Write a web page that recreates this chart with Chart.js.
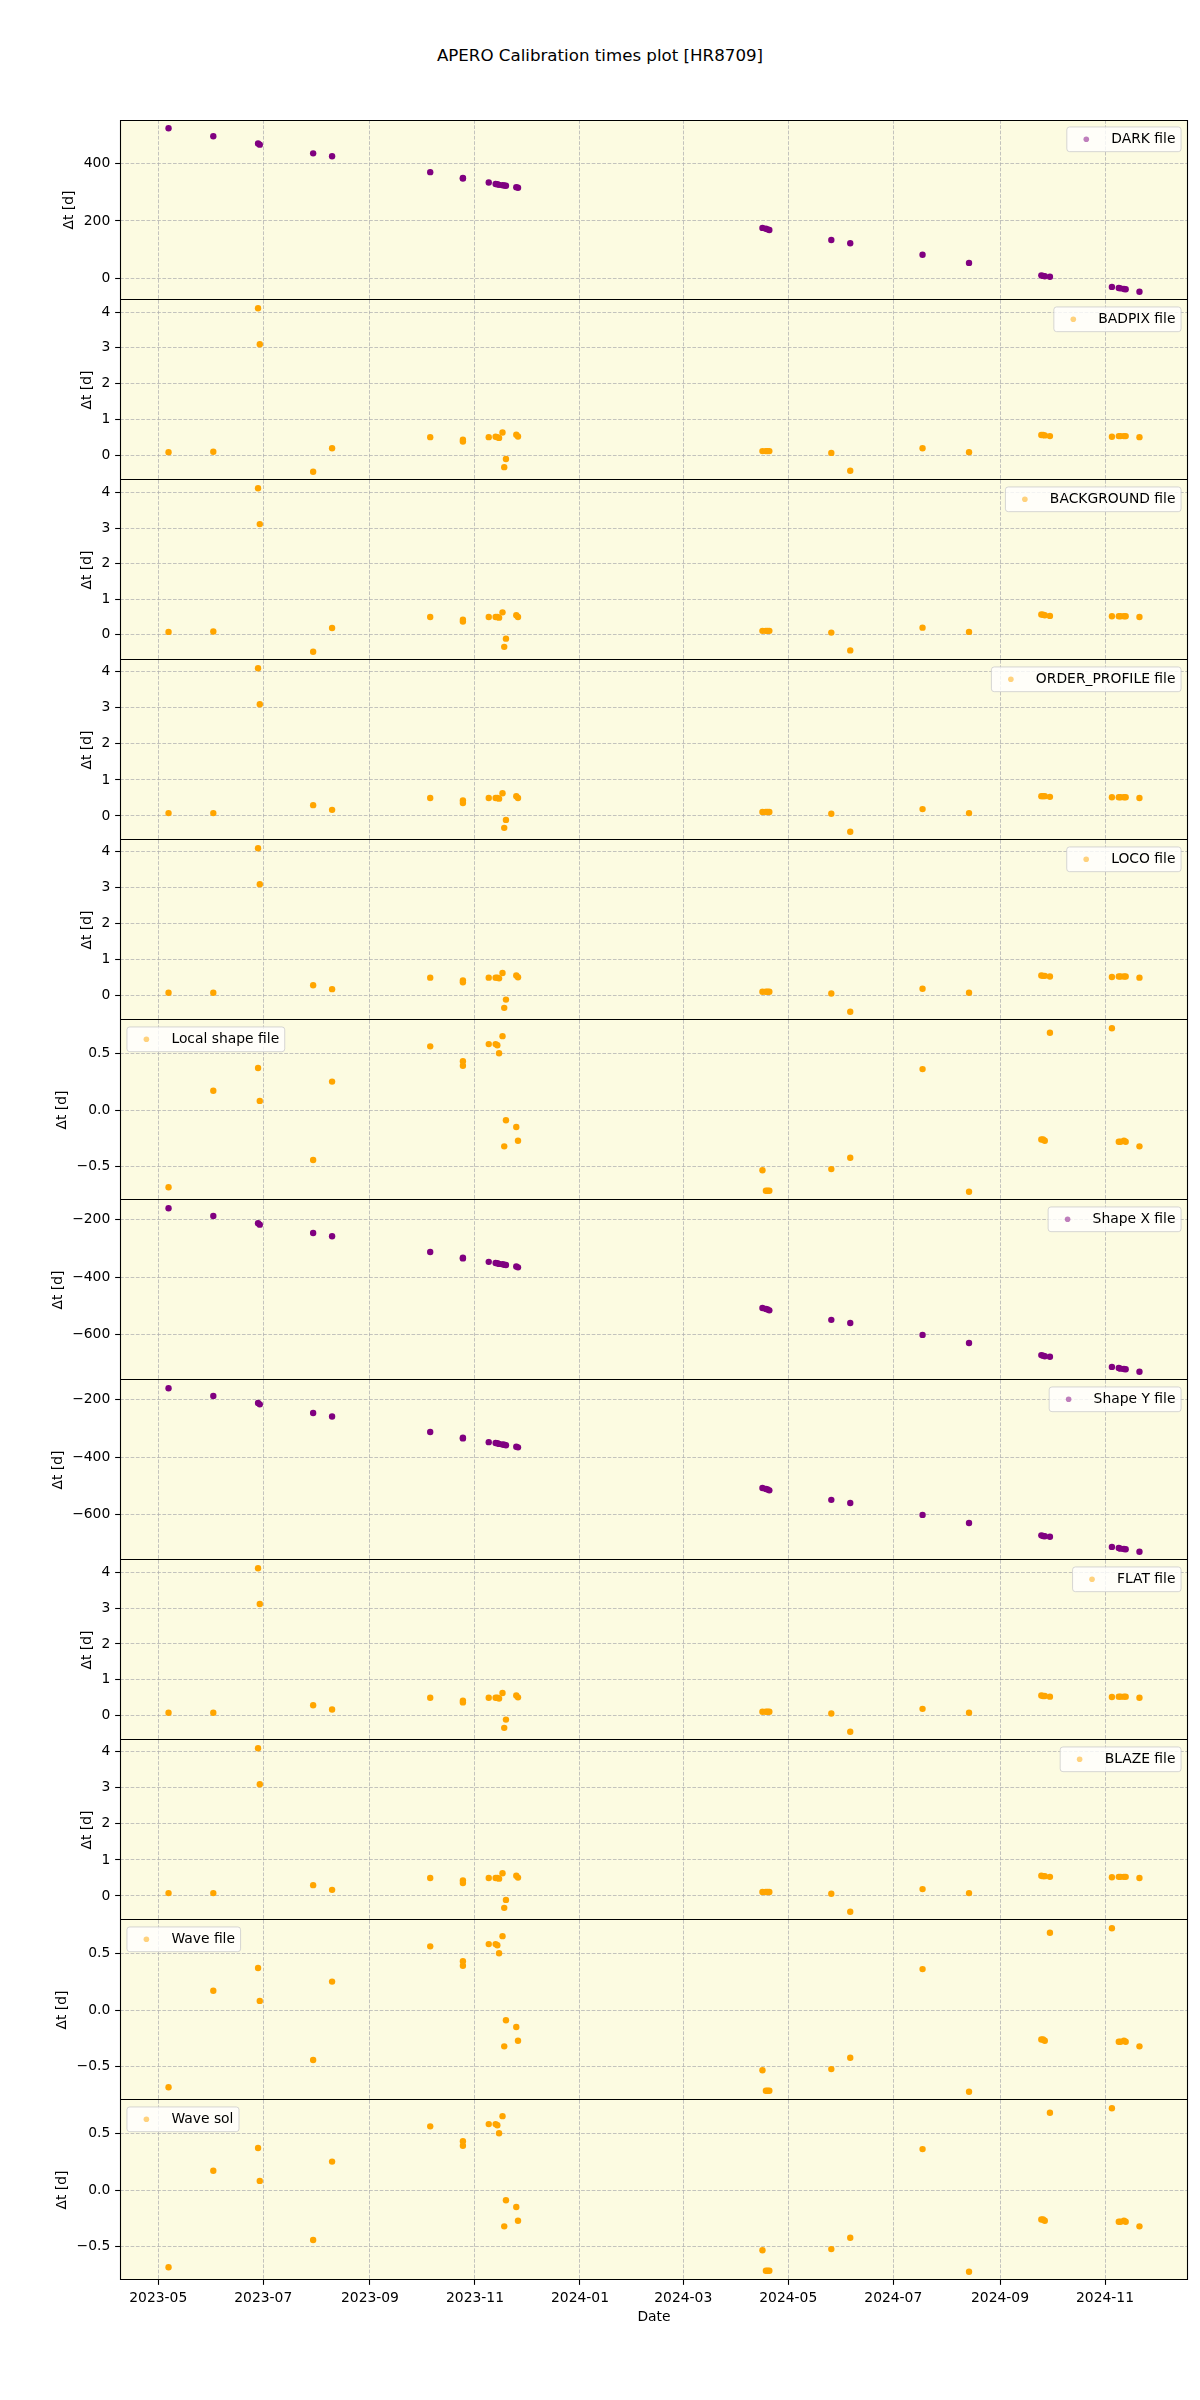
<!DOCTYPE html>
<html>
<head>
<meta charset="utf-8">
<script src="https://cdn.jsdelivr.net/npm/chart.js@4.4.1/dist/chart.umd.min.js"></script>
<style>
html,body{margin:0;padding:0;background:#ffffff;}
#wrap{position:relative;width:1200px;height:2400px;overflow:hidden;}
#title{position:absolute;left:0;top:44px;width:1200px;text-align:center;font-family:"DejaVu Sans";font-size:16.67px;line-height:24px;color:#000;}
canvas{position:absolute;left:0;}
</style>
</head>
<body>
<div id="wrap"><div id="title">APERO Calibration times plot [HR8709]</div></div>
<script>
// ---------------- data ----------------
const obsDates = ['2023-05-07','2023-06-02','2023-06-28','2023-06-29','2023-07-30','2023-08-10','2023-10-06','2023-10-25','2023-10-25','2023-11-09','2023-11-13','2023-11-14','2023-11-15','2023-11-17','2023-11-18','2023-11-19','2023-11-25','2023-11-26','2024-04-16','2024-04-18','2024-04-19','2024-04-20','2024-05-26','2024-06-06','2024-07-18','2024-08-14','2024-09-25','2024-09-26','2024-09-27','2024-09-30','2024-11-05','2024-11-09','2024-11-10','2024-11-12','2024-11-13','2024-11-21'];

const darkDt = [521,493,468,464,434,424,369,349,347,333,328,327,325,324,323,322,317,315,176,173,171,169,134,123,83,55,12,10,9,7,-28,-32,-33,-35,-36,-45];
const badpixDt = [0.08,0.09,4.11,3.10,-0.47,0.19,0.50,0.43,0.38,0.50,0.51,0.50,0.48,0.63,-0.34,-0.11,0.57,0.52,0.11,0.11,0.11,0.11,0.06,-0.44,0.19,0.08,0.56,0.56,0.55,0.53,0.51,0.53,0.53,0.53,0.53,0.50];
const backgroundDt = [0.08,0.09,4.12,3.11,-0.48,0.19,0.50,0.42,0.37,0.50,0.50,0.50,0.48,0.63,-0.34,-0.11,0.55,0.50,0.11,0.11,0.11,0.11,0.06,-0.44,0.20,0.08,0.57,0.56,0.55,0.53,0.52,0.52,0.52,0.52,0.52,0.50];
const orderProfileDt = [0.08,0.08,4.10,3.10,0.30,0.17,0.50,0.43,0.36,0.50,0.50,0.50,0.48,0.63,-0.33,-0.11,0.55,0.50,0.11,0.11,0.11,0.11,0.06,-0.44,0.19,0.08,0.55,0.55,0.55,0.53,0.52,0.52,0.52,0.52,0.52,0.50];
const locoDt = [0.08,0.08,4.10,3.10,0.29,0.18,0.50,0.42,0.37,0.50,0.50,0.50,0.48,0.63,-0.34,-0.11,0.56,0.51,0.11,0.11,0.11,0.11,0.06,-0.45,0.19,0.08,0.56,0.55,0.55,0.53,0.52,0.53,0.53,0.53,0.53,0.50];
const localShapeDt = [-0.68,0.17,0.37,0.08,-0.44,0.25,0.56,0.43,0.39,0.58,0.58,0.57,0.50,0.65,-0.32,-0.09,-0.15,-0.27,-0.53,-0.71,-0.71,-0.71,-0.52,-0.42,0.36,-0.72,-0.26,-0.26,-0.27,0.68,0.72,-0.28,-0.28,-0.27,-0.28,-0.32];
const shapeXDt = [-161,-188,-213,-218,-247,-258,-313,-333,-335,-347,-351,-352,-354,-355,-357,-358,-363,-366,-507,-510,-512,-515,-548,-559,-600,-628,-670,-672,-674,-676,-711,-715,-717,-718,-719,-728];
const shapeYDt = [-161,-188,-212,-217,-247,-259,-313,-333,-335,-348,-351,-352,-354,-356,-357,-359,-364,-366,-507,-510,-512,-515,-548,-559,-600,-628,-671,-673,-674,-676,-711,-715,-717,-718,-719,-728];
const flatDt = [0.08,0.08,4.11,3.11,0.29,0.17,0.50,0.42,0.37,0.50,0.50,0.50,0.48,0.63,-0.34,-0.11,0.56,0.51,0.11,0.11,0.11,0.11,0.06,-0.45,0.19,0.08,0.56,0.55,0.55,0.53,0.52,0.53,0.53,0.53,0.53,0.50];
const blazeDt = [0.08,0.08,4.10,3.10,0.30,0.17,0.50,0.43,0.36,0.50,0.50,0.50,0.48,0.63,-0.33,-0.11,0.56,0.51,0.11,0.11,0.11,0.11,0.06,-0.44,0.19,0.08,0.56,0.55,0.55,0.53,0.52,0.53,0.53,0.53,0.53,0.50];
const waveFileDt = [-0.68,0.17,0.37,0.08,-0.44,0.25,0.56,0.43,0.39,0.58,0.58,0.57,0.50,0.65,-0.32,-0.09,-0.15,-0.27,-0.53,-0.71,-0.71,-0.71,-0.52,-0.42,0.36,-0.72,-0.26,-0.26,-0.27,0.68,0.72,-0.28,-0.28,-0.27,-0.28,-0.32];
const waveSolDt = [-0.68,0.17,0.37,0.08,-0.44,0.25,0.56,0.43,0.39,0.58,0.58,0.57,0.50,0.65,-0.32,-0.09,-0.15,-0.27,-0.53,-0.71,-0.71,-0.71,-0.52,-0.42,0.36,-0.72,-0.26,-0.26,-0.27,0.68,0.72,-0.28,-0.28,-0.27,-0.28,-0.32];

const xTickLabels = ['2023-05','2023-07','2023-09','2023-11','2024-01','2024-03','2024-05','2024-07','2024-09','2024-11'];
const darkTicks = [0,200,400];
const unitTicks = [0,1,2,3,4];
const halfTicks = [-0.5,0.0,0.5];
const shapeTicks = [-600,-400,-200];

const panelLabels = ['DARK file','BADPIX file','BACKGROUND file','ORDER_PROFILE file','LOCO file','Local shape file','Shape X file','Shape Y file','FLAT file','BLAZE file','Wave file','Wave sol'];
const yLabel = 'Δt [d]';
const xLabel = 'Date';

// ---------------- styles ----------------
const PURPLE = '#800080', ORANGE = '#FFA500';
const PURPLE_A = 'rgba(128,0,128,0.5)', ORANGE_A = 'rgba(255,165,0,0.5)';
const BG = '#FCFBE1';
const GRID = 'rgba(176,176,176,0.75)';
const FS = 13.89;
const FONT = FS + 'px "DejaVu Sans"';
const TICKLEN = 4.86, TICKPAD = 4.86;
const LEFT = 120, RIGHT = 1188, TOP0 = 120, PH = 180, W = 1200;

Chart.defaults.font.family = '"DejaVu Sans"';
Chart.defaults.font.size = FS;
Chart.defaults.color = '#000';

const panels = [
  {values: darkDt, color: PURPLE, alpha: PURPLE_A, ticks: darkTicks, loc: 'right'},
  {values: badpixDt, color: ORANGE, alpha: ORANGE_A, ticks: unitTicks, loc: 'right'},
  {values: backgroundDt, color: ORANGE, alpha: ORANGE_A, ticks: unitTicks, loc: 'right'},
  {values: orderProfileDt, color: ORANGE, alpha: ORANGE_A, ticks: unitTicks, loc: 'right'},
  {values: locoDt, color: ORANGE, alpha: ORANGE_A, ticks: unitTicks, loc: 'right'},
  {values: localShapeDt, color: ORANGE, alpha: ORANGE_A, ticks: halfTicks, loc: 'left'},
  {values: shapeXDt, color: PURPLE, alpha: PURPLE_A, ticks: shapeTicks, loc: 'right'},
  {values: shapeYDt, color: PURPLE, alpha: PURPLE_A, ticks: shapeTicks, loc: 'right'},
  {values: flatDt, color: ORANGE, alpha: ORANGE_A, ticks: unitTicks, loc: 'right'},
  {values: blazeDt, color: ORANGE, alpha: ORANGE_A, ticks: unitTicks, loc: 'right'},
  {values: waveFileDt, color: ORANGE, alpha: ORANGE_A, ticks: halfTicks, loc: 'left'},
  {values: waveSolDt, color: ORANGE, alpha: ORANGE_A, ticks: halfTicks, loc: 'left'}
].map((p, i) => Object.assign(p, {label: panelLabels[i]}));

// ---------------- helpers ----------------
const DAY = 86400000;
function toDay(s) { const a = s.split('-').map(Number); return Date.UTC(a[0], a[1] - 1, a[2] || 1) / DAY; }
function padRange(lo, hi) { const r = hi - lo; return [lo - 0.05 * r, hi + 0.05 * r]; }
const xs = obsDates.map(toDay);
const xTicks = xTickLabels.map(toDay);
const [xMin, xMax] = padRange(Math.min(...xs), Math.max(...xs));

function fmtY(v, dec) {
  const s = Math.abs(v).toFixed(dec);
  return (v < 0 ? '\u2212' : '') + s;
}
function zeroPad(s) { s.paddingTop = 0; s.paddingBottom = 0; s.paddingLeft = 0; s.paddingRight = 0; }

function roundRect(ctx, x, y, w, h, r) {
  ctx.beginPath();
  ctx.moveTo(x + r, y);
  ctx.lineTo(x + w - r, y); ctx.arcTo(x + w, y, x + w, y + r, r);
  ctx.lineTo(x + w, y + h - r); ctx.arcTo(x + w, y + h, x + w - r, y + h, r);
  ctx.lineTo(x + r, y + h); ctx.arcTo(x, y + h, x, y + h - r, r);
  ctx.lineTo(x, y + r); ctx.arcTo(x, y, x + r, y, r);
  ctx.closePath();
}

const deco = {
  id: 'deco',
  beforeDraw(chart, args, o) {
    const {ctx, chartArea: a} = chart;
    ctx.save();
    ctx.fillStyle = BG;
    ctx.fillRect(a.left, a.top, a.right - a.left, a.bottom - a.top);
    ctx.restore();
  },
  afterDraw(chart, args, o) {
    const {ctx, chartArea: a} = chart;
    ctx.save();
    // frame
    ctx.strokeStyle = '#000';
    ctx.lineWidth = 1.1;
    ctx.beginPath();
    if (o.first) { ctx.moveTo(a.left, a.top + 0.5); ctx.lineTo(a.right, a.top + 0.5); }
    ctx.moveTo(a.left, a.bottom - 0.5); ctx.lineTo(a.right, a.bottom - 0.5);
    ctx.moveTo(a.left + 0.5, a.top); ctx.lineTo(a.left + 0.5, a.bottom);
    ctx.moveTo(a.right - 0.5, a.top); ctx.lineTo(a.right - 0.5, a.bottom);
    ctx.stroke();

    // legend (matplotlib style)
    ctx.font = FONT;
    const tw = ctx.measureText(o.label).width;
    const bp = 0.4 * FS, hl = 2 * FS, htp = 0.8 * FS, bap = 0.5 * FS;
    const bw = bp + hl + htp + tw + bp;
    const bh = 2 * bp + 0.98 * FS;
    const bx = o.loc === 'left' ? a.left + bap : a.right - bap - bw;
    const by = a.top + bap;
    roundRect(ctx, bx, by, bw, bh, 0.2 * FS);
    ctx.fillStyle = 'rgba(255,255,255,0.8)';
    ctx.fill();
    ctx.strokeStyle = 'rgba(204,204,204,0.8)';
    ctx.lineWidth = 1;
    ctx.stroke();
    ctx.fillStyle = o.alpha;
    ctx.beginPath();
    ctx.arc(bx + bp + hl / 2, by + bh / 2, 2.8, 0, Math.PI * 2);
    ctx.fill();
    ctx.fillStyle = '#000';
    ctx.textAlign = 'left';
    ctx.textBaseline = 'middle';
    ctx.fillText(o.label, bx + bp + hl + htp, by + bh / 2 + 0.5);

    // y label, placed left of the widest tick label
    const maxW = Math.max(...o.tickText.map(t => ctx.measureText(t).width));
    const cx = a.left - TICKLEN - TICKPAD - maxW - 5.56 - 8.6;
    ctx.save();
    ctx.translate(cx, (a.top + a.bottom) / 2);
    ctx.rotate(-Math.PI / 2);
    ctx.textAlign = 'center';
    ctx.textBaseline = 'middle';
    ctx.fillText(yLabel, 0, 0);
    ctx.restore();

    // x label
    if (o.last) {
      ctx.textAlign = 'center';
      ctx.textBaseline = 'alphabetic';
      ctx.fillText(xLabel, (a.left + a.right) / 2, a.bottom + 40.5);
    }
    ctx.restore();
  }
};

// ---------------- build charts ----------------
const wrap = document.getElementById('wrap');
panels.forEach((p, i) => {
  const last = i === panels.length - 1;
  const ch = last ? PH + 120 : PH;
  const cv = document.createElement('canvas');
  cv.width = W; cv.height = ch;
  cv.style.width = W + 'px'; cv.style.height = ch + 'px';
  cv.style.top = (TOP0 + PH * i) + 'px';
  wrap.appendChild(cv);

  const [yMin, yMax] = padRange(Math.min(...p.values), Math.max(...p.values));
  const dec = p.ticks.some(t => !Number.isInteger(t)) ? 1 : 0;
  const tickText = p.ticks.map(t => fmtY(t, dec));

  new Chart(cv.getContext('2d'), {
    type: 'scatter',
    data: {
      datasets: [{
        label: p.label,
        data: xs.map((x, j) => ({x: x, y: p.values[j]})),
        backgroundColor: p.color,
        borderWidth: 0,
        pointRadius: 3.2,
        pointHoverRadius: 3.2
      }]
    },
    options: {
      responsive: false,
      animation: false,
      devicePixelRatio: 1,
      events: [],
      layout: {autoPadding: false, padding: {left: 0, right: W - RIGHT, top: 0, bottom: 0}},
      plugins: {
        legend: {display: false},
        tooltip: {enabled: false},
        title: {display: false},
        deco: {label: p.label, loc: p.loc, alpha: p.alpha, tickText: tickText, first: i === 0, last: last}
      },
      scales: {
        x: {
          type: 'linear',
          min: xMin, max: xMax,
          afterBuildTicks: s => { s.ticks = xTicks.map(v => ({value: v})); },
          afterFit: s => { s.height = last ? 120 : 0; zeroPad(s); },
          ticks: {
            display: last, autoSkip: false, maxRotation: 0, minRotation: 0, padding: TICKPAD,
            callback: v => { const k = xTicks.indexOf(v); return k >= 0 ? xTickLabels[k] : ''; }
          },
          grid: {color: GRID, lineWidth: 1, drawTicks: last, tickLength: TICKLEN, tickColor: '#000', tickWidth: 1.1, tickBorderDash: []},
          border: {display: false, dash: [3.7, 1.6]}
        },
        y: {
          type: 'linear',
          min: yMin, max: yMax,
          afterBuildTicks: s => { s.ticks = p.ticks.map(v => ({value: v})); },
          afterFit: s => { s.width = LEFT; zeroPad(s); },
          ticks: {autoSkip: false, padding: TICKPAD, callback: v => fmtY(v, dec)},
          grid: {color: GRID, lineWidth: 1, drawTicks: true, tickLength: TICKLEN, tickColor: '#000', tickWidth: 1.1, tickBorderDash: []},
          border: {display: false, dash: [3.7, 1.6]}
        }
      }
    },
    plugins: [deco]
  });
});
</script>
</body>
</html>
